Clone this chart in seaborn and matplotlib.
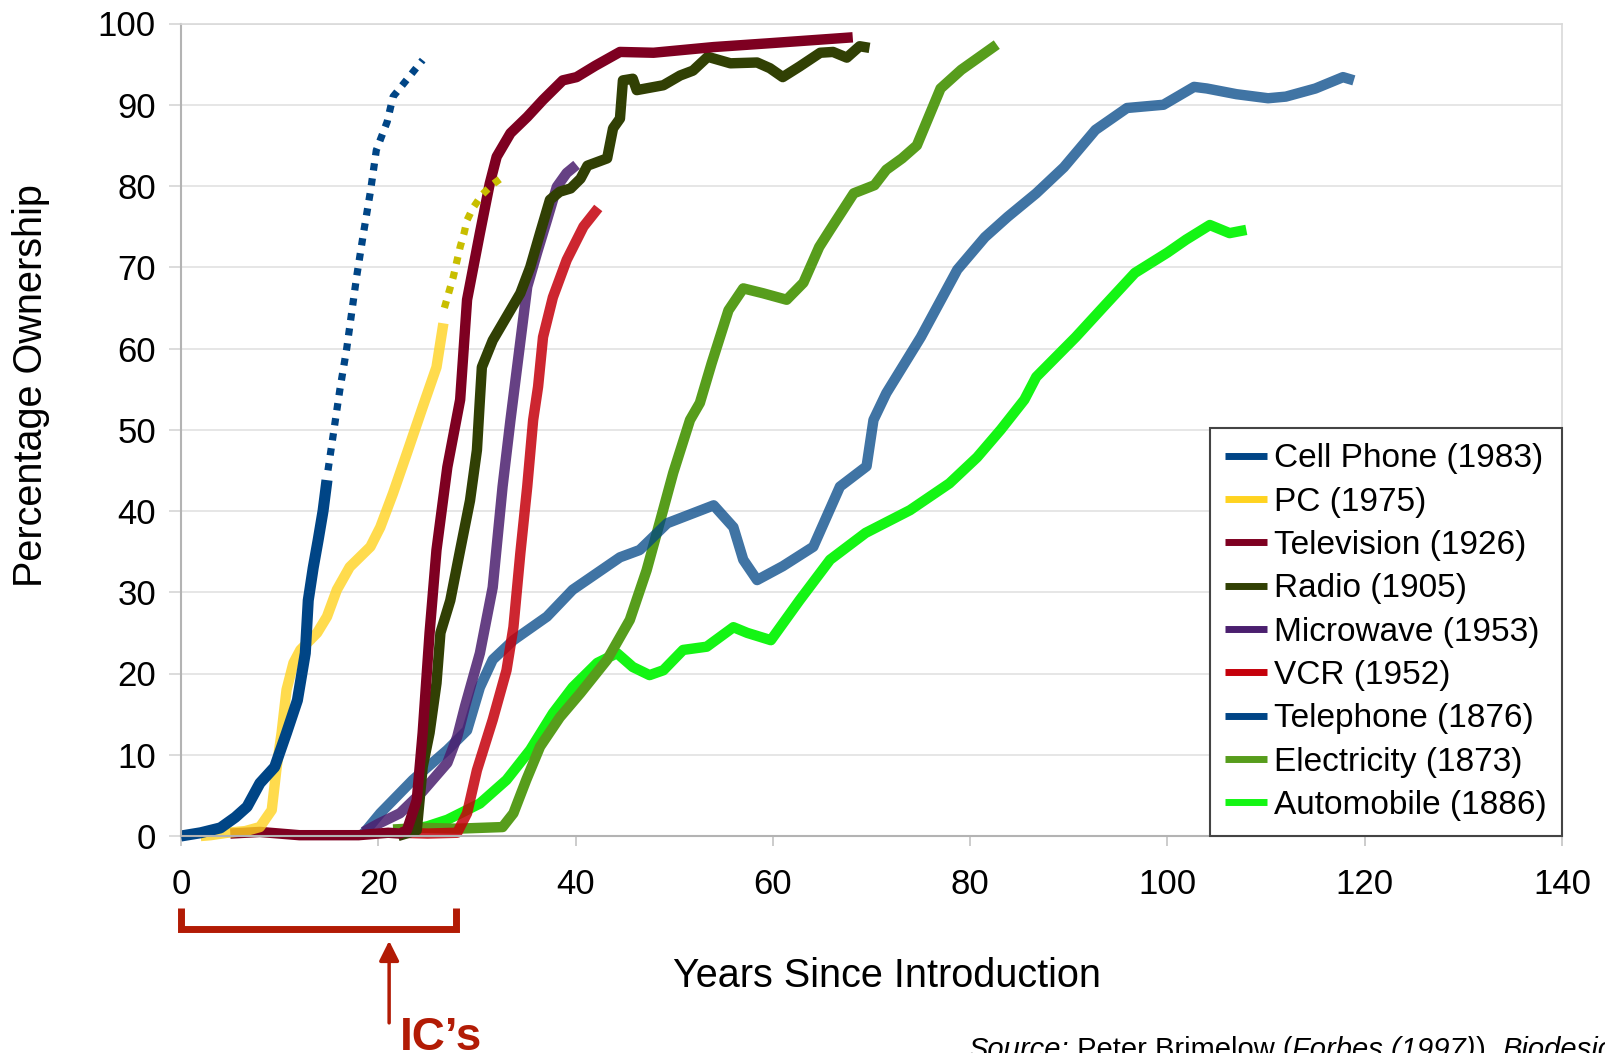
import matplotlib
matplotlib.use("Agg")
import matplotlib.pyplot as plt
import seaborn as sns

# ---- adoption curves: years since introduction vs. percentage ownership ----
cell_x = [0, 2, 4, 5.5, 6.7, 8, 9.5, 10.7, 11.8, 12.6, 12.9, 13.4, 13.9, 14.4, 14.8]
cell_y = [0, 0.4, 1.0, 2.3, 3.6, 6.5, 8.5, 12.7, 16.7, 22.5, 29, 33, 36.4, 40, 43.8]
cell_proj_x = [14.9, 16.1, 16.8, 17.8, 18.5, 19.2, 19.8, 20.9, 21.5, 22.7, 24.5]
cell_proj_y = [45, 54.9, 60, 68.8, 74.2, 79.3, 84.4, 87.9, 91, 92.8, 95.5]

pc_x = [2, 3, 4.7, 6.5, 8, 9.2, 9.7, 10.2, 10.7, 11.4, 12.1, 13.8, 14.8, 15.8,
        17.1, 19.2, 20.2, 21.5, 22.9, 24.5, 25.9, 26.6]
pc_y = [0, 0.1, 0.4, 0.6, 1.1, 3.2, 8.5, 12.7, 18, 21.3, 22.9, 25, 27, 30.3,
        33.1, 35.6, 38, 42.2, 47.1, 52.8, 57.7, 63.1]
pc_proj_x = [26.7, 27.6, 28.3, 28.7, 29.0, 29.6, 30.5, 31.5, 32.6]
pc_proj_y = [65.0, 68.8, 72.5, 74.2, 75.8, 77.3, 78.9, 80.1, 81.1]

tv_x = [5, 8, 12, 18, 21, 22.2, 22.9, 23.9, 24.5, 25.2, 25.9, 27, 28.3, 29, 30.3,
        31.3, 32, 33.4, 35.1, 36.7, 38.7, 40.1, 42, 44.5, 47.9, 54, 60, 68.1]
tv_y = [0.3, 0.5, 0.1, 0.1, 0.4, 0.3, 0.7, 4.4, 12.7, 25, 35.2, 45.4, 53.7, 66, 74.2,
        80.3, 83.6, 86.5, 88.5, 90.6, 93, 93.4, 94.8, 96.5, 96.4, 97.1, 97.6, 98.3]

radio_x = [22, 23.9, 24.5, 25.2, 25.9, 26.3, 27.3, 28.3, 29.3, 30, 30.3, 30.5, 31.6,
           33, 34.4, 35.4, 36.4, 37.4, 38.4, 39.5, 40.5, 41.2, 43.2, 43.8, 44.5,
           44.8, 45.8, 46.2, 48.9, 50.6, 51.9, 53.4, 55.7, 58.4, 59.7, 61, 62.7,
           64.8, 66.1, 67.5, 68.8, 69.8]
radio_y = [0, 0.7, 8.5, 12.7, 18.8, 25, 29, 35.2, 41.3, 47.5, 53.7, 57.7, 61,
           63.9, 66.8, 70, 74.2, 78.3, 79.3, 79.7, 80.9, 82.5, 83.4, 87.1, 88.3,
           93, 93.2, 91.8, 92.4, 93.6, 94.2, 95.9, 95.1, 95.2, 94.5, 93.4, 94.7,
           96.4, 96.5, 95.8, 97.2, 97]

micro_x = [18.5, 20, 22.2, 24.5, 27, 28, 28.8, 30.3, 31.6, 32.6, 33.4, 35.1, 36.1,
           37.1, 38.1, 39.1, 40.1]
micro_y = [0.5, 1.5, 2.8, 5.5, 9, 12.2, 16, 22.5, 30.6, 43, 51.2, 67.6, 71.8,
           75.8, 79.9, 81.6, 82.6]

vcr_x = [22.2, 25, 28, 29, 30, 31.6, 33, 33.7, 34.4, 35.1, 35.7, 36.2, 36.7, 37.7,
         39.1, 40.8, 42.3]
vcr_y = [0.4, 0.3, 0.4, 2.8, 8.1, 14.3, 20.4, 25.7, 34.8, 43, 51.2, 55.3, 61.4,
         66.3, 70.9, 75, 77.3]

phone_x = [18.5, 20.2, 23.5, 27, 29, 30.3, 31.6, 33.7, 37.1, 39.7, 44.5, 46.5, 49.3,
           54, 56, 57, 58.4, 61, 64.1, 66.8, 69.5, 70.2, 71.5, 75, 78.7, 81.5,
           83.8, 86.7, 89.5, 92.7, 95.9, 99.6, 102.7, 104, 107, 110.2, 112, 115,
           117.8, 118.9]
phone_y = [0.3, 2.8, 6.9, 10.6, 13, 18.3, 21.7, 24.1, 27, 30.3, 34.3, 35.2, 38.5,
           40.7, 38, 34, 31.5, 33.2, 35.6, 43, 45.5, 51.2, 54.5, 61.4, 69.7, 73.7,
           76.2, 79.1, 82.3, 86.9, 89.6, 90, 92.2, 92, 91.3, 90.8, 91, 92, 93.4, 93]

elec_x = [21.5, 24.5, 28, 32.6, 33.7, 35, 36.4, 38.4, 40.5, 43.2, 45.5, 47.2, 48.6,
          49.9, 51.6, 52.6, 53.8, 55.5, 57, 59, 61.4, 63.1, 64.7, 65.8, 68.2, 70.3,
          71.5, 73.1, 74.6, 75.8, 77, 79.1, 82.7]
elec_y = [0.8, 1, 0.9, 1.1, 2.8, 6.9, 11, 14.6, 17.6, 21.7, 26.6, 32.7, 38.9,
          44.7, 51.2, 53.3, 58.2, 64.7, 67.4, 66.8, 66, 68.1, 72.5, 74.6, 79.1, 80.1,
          82, 83.4, 85, 88.5, 92, 94.3, 97.4]

auto_x = [22.2, 25, 27, 30.3, 33, 35.4, 37.7, 39.7, 42.2, 44.2, 45.8, 47.5, 48.9,
          50.9, 53.3, 56, 57.4, 59.8, 62.7, 65.8, 69.4, 73.9, 77.9, 80.7, 83.1,
          85.5, 86.7, 90.7, 93.5, 96.7, 100, 101.9, 104.3, 106.3, 108]
auto_y = [0.5, 1.2, 2, 4, 6.9, 10.6, 15.1, 18.3, 21.3, 22.5, 20.8, 19.8, 20.4,
          22.9, 23.3, 25.7, 25, 24.1, 29, 34, 37.3, 40.1, 43.4, 46.6, 50, 53.7,
          56.5, 61.4, 65.1, 69.3, 71.8, 73.4, 75.2, 74.2, 74.6]

labels = ["Cell Phone (1983)", "PC (1975)", "Television (1926)", "Radio (1905)",
          "Microwave (1953)", "VCR (1952)", "Telephone (1876)", "Electricity (1873)",
          "Automobile (1886)"]
colors = ["#004586", "#FFD320", "#7E0021", "#314004", "#4B1F6F", "#C5000B",
          "#004586", "#579D1C", "#14F514"]
alphas = [1.0, 0.8, 1.0, 1.0, 0.85, 0.85, 0.75, 1.0, 1.0]
series = [(cell_x, cell_y), (pc_x, pc_y), (tv_x, tv_y), (radio_x, radio_y),
          (micro_x, micro_y), (vcr_x, vcr_y), (phone_x, phone_y),
          (elec_x, elec_y), (auto_x, auto_y)]

x_ticks = [0, 20, 40, 60, 80, 100, 120, 140]
y_ticks = [0, 10, 20, 30, 40, 50, 60, 70, 80, 90, 100]

sns.set_theme(style="white")
plt.rcParams["font.family"] = ["Liberation Sans", "DejaVu Sans"]
plt.rcParams["text.color"] = "black"
plt.rcParams["xtick.labelcolor"] = "black"
plt.rcParams["ytick.labelcolor"] = "black"

W, H = 1606, 1053
fig = plt.figure(figsize=(W / 100, H / 100), dpi=100)
ax = fig.add_axes([181 / W, 1 - 836 / H, (1562 - 181) / W, (836 - 23.5) / H])


def style_line(line, **kw):
    line.set_clip_on(False)
    line.set_solid_joinstyle("round")
    line.set_solid_capstyle("butt")
    for k, v in kw.items():
        getattr(line, "set_" + k)(v)


# draw back to front so the newest technologies sit on top
handles = [None] * len(series)
for i in reversed(range(len(series))):
    xs, ys = series[i]
    n0 = len(ax.lines)
    sns.lineplot(x=xs, y=ys, ax=ax, color=colors[i], linewidth=7.5,
                 alpha=alphas[i], sort=False, estimator=None)
    line = ax.lines[n0]
    style_line(line)
    handles[i] = line
    if i == 0:
        line.set_linewidth(8)

# projected continuations (dotted)
for xs, ys, c in [(pc_proj_x, pc_proj_y, "#C8BE00"),
                  (cell_proj_x, cell_proj_y, "#004586")]:
    n0 = len(ax.lines)
    sns.lineplot(x=xs, y=ys, ax=ax, color=c, linewidth=5.2, sort=False,
                 estimator=None)
    line = ax.lines[n0]
    style_line(line, linestyle=(0, (1, 1.1)), dash_capstyle="butt")

ax.set_xlim(0, 140)
ax.set_ylim(0, 100)
ax.set_xticks(x_ticks)
ax.set_yticks(y_ticks)
ax.set_xlabel("")
ax.set_ylabel("")
ax.grid(axis="y", color="#E4E4E4", linewidth=1.3)
ax.grid(axis="x", visible=False)
ax.set_axisbelow(True)
for side in ["left", "bottom"]:
    ax.spines[side].set_color("#B3B3B3")
    ax.spines[side].set_linewidth(1.5)
for side in ["top", "right"]:
    ax.spines[side].set_color("#D9D9D9")
    ax.spines[side].set_linewidth(1.2)
ax.tick_params(axis="x", direction="out", length=7, width=1.3, color="#C8C8C8",
               labelsize=25, pad=16, bottom=True, labelcolor="black")
ax.tick_params(axis="y", direction="out", length=9, width=1.3, color="#D9D9D9",
               labelsize=25, pad=9, left=True, labelcolor="black")

leg = ax.legend(handles, labels, loc="lower right", bbox_to_anchor=(1, 0),
                borderaxespad=0, fontsize=24, frameon=True, fancybox=False,
                edgecolor="#444444", framealpha=1, handlelength=1.25,
                handletextpad=0.22, labelspacing=0.37, borderpad=0.45)
leg.get_frame().set_linewidth(1.5)
for h in leg.get_lines():
    h.set_linewidth(5)
    h.set_alpha(1)
for t in leg.get_texts():
    t.set_color("black")

# axis titles
fig.text(31 / W, 1 - 386 / H, "Percentage Ownership", rotation=90,
         ha="center", va="center", fontsize=28.5)
fig.text(887 / W, 1 - 976 / H, "Years Since Introduction",
         ha="center", va="center", fontsize=28.5)

# integrated-circuit era bracket and arrow
ic_red = "#B21B05"
ax.plot([0, 0, 27.9, 27.9], [-8.9, -11.4, -11.4, -8.9], color=ic_red,
        linewidth=5, clip_on=False, solid_joinstyle="miter", solid_capstyle="butt")
ax.annotate("", xy=(21.1, -12.9), xytext=(21.1, -23.0),
            arrowprops=dict(arrowstyle="-|>", color=ic_red, lw=2.5,
                            mutation_scale=30, shrinkA=0, shrinkB=0),
            annotation_clip=False)
fig.text(400 / W, 1 - 1050 / H, "IC’s", color=ic_red, fontsize=33,
         fontweight="bold", va="baseline", ha="left")

# source line, italic titles set in place piece by piece
last = fig.text(968 / W, 1 - 1058 / H, "Source:", fontsize=21, style="italic",
                va="baseline", ha="left")
for txt, st in [(" Peter Brimelow (", "normal"), ("Forbes (1997)", "italic"),
                ("), ", "normal"), ("Biodesic", "italic")]:
    last = ax.annotate(txt, xy=(1, 0), xycoords=last, va="bottom", ha="left",
                       fontsize=21, style=st, annotation_clip=False)

fig.savefig("out.png", dpi=100)
